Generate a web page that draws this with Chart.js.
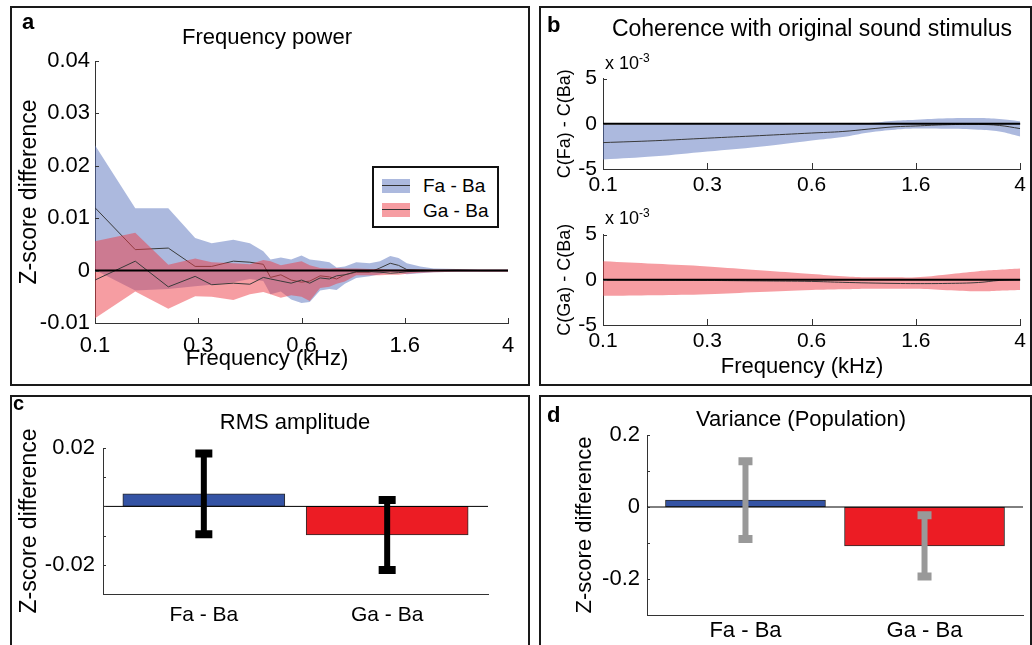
<!DOCTYPE html>
<html>
<head>
<meta charset="utf-8">
<script src="https://cdn.jsdelivr.net/npm/chart.js@4.4.1/dist/chart.umd.min.js"></script>
<style>
  html, body { margin: 0; padding: 0; background: #fff; }
  body { width: 1032px; height: 645px; position: relative; overflow: hidden; font-family: "Liberation Sans", Arial, sans-serif; color: #000; }
  .panel { position: absolute; border: 2px solid #1a1a1a; box-sizing: border-box; }
  canvas { position: absolute; }
  .t { position: absolute; line-height: 1; white-space: nowrap; }
  .legend { position: absolute; border: 2px solid #111; box-sizing: border-box; background: #fff; }
  .patch { position: absolute; width: 28px; height: 14px; }
  .patch::after { content: ""; position: absolute; left: 0; right: 0; top: 6px; height: 1px; background: #333; }
</style>
</head>
<body>
<div class="panel" style="left:10px;top:6px;width:520px;height:380px"></div>
<div class="panel" style="left:539px;top:6px;width:493px;height:380px"></div>
<div class="panel" style="left:10px;top:395px;width:520px;height:260px"></div>
<div class="panel" style="left:539px;top:395px;width:493px;height:260px"></div>

<canvas id="cA" width="516" height="376" style="left:12px;top:8px"></canvas>
<canvas id="cB1" width="489" height="140" style="left:541px;top:60px"></canvas>
<canvas id="cB2" width="489" height="140" style="left:541px;top:216px"></canvas>
<canvas id="cC" width="516" height="246" style="left:12px;top:397px"></canvas>
<canvas id="cD" width="489" height="248" style="left:541px;top:397px"></canvas>

<div class="legend" style="left:372px;top:166px;width:127px;height:62px">
  <div class="patch" style="left:8px;top:11px;background:rgba(90,115,190,0.5)"></div>
  <div class="t" style="left:49px;top:8px;font-size:19px">Fa - Ba</div>
  <div class="patch" style="left:8px;top:35px;background:rgba(238,60,70,0.5)"></div>
  <div class="t" style="left:49px;top:33px;font-size:19px">Ga - Ba</div>
</div>

<script>
// ---- data ----
// frequency axis: ticks are evenly spaced, x values are positions along it (0 = 0.1 kHz, 4 = 4 kHz)
const freqTickPos = [0, 1, 2, 3, 4];
const freqTickLabels = ["0.1", "0.3", "0.6", "1.6", "4"];

// a: frequency power (z-score difference)
const powerPos = [0, 0.39, 0.71, 0.97, 1.13, 1.34, 1.5, 1.63, 1.7, 1.8, 1.9, 2.0, 2.08, 2.18, 2.27, 2.34, 2.42, 2.53, 2.66, 2.76, 2.86, 2.94, 3.02, 3.15, 3.28, 3.5, 3.75, 4];
const faPowerMean = [0.0120, 0.0040, 0.0043, 0.0008, 0.0008, 0.0018, 0.0016, 0.0012, -0.0013, -0.0008, -0.0018, -0.0022, -0.0020, -0.0010, -0.0012, -0.0016, -0.0008, -0.0003, -0.0003, 0.0005, 0.0014, 0.0010, 0.0002, 0.0001, 0.0000, 0.0001, 0.0000, 0.0000];
const faPowerUpper = [0.0239, 0.0119, 0.0119, 0.0062, 0.0052, 0.0059, 0.0052, 0.0037, 0.0021, 0.0025, 0.0021, 0.0029, 0.0021, 0.0019, 0.0016, 0.0006, 0.0008, 0.0016, 0.0014, 0.0018, 0.0028, 0.0024, 0.0014, 0.0008, 0.0004, 0.0003, 0.0002, 0.0002];
const faPowerLower = [0.0001, -0.0038, -0.0035, -0.0030, -0.0027, -0.0022, -0.0016, -0.0020, -0.0045, -0.0040, -0.0055, -0.0062, -0.0060, -0.0038, -0.0035, -0.0037, -0.0025, -0.0014, -0.0011, -0.0007, -0.0002, -0.0004, -0.0007, -0.0005, -0.0003, -0.0002, -0.0002, -0.0002];
const gaPowerMean = [-0.0018, 0.0018, -0.0031, -0.0011, -0.0027, -0.0024, -0.0026, -0.0013, -0.0016, -0.0020, -0.0024, -0.0018, -0.0024, -0.0014, -0.0016, -0.0010, -0.0008, -0.0002, -0.0002, -0.0003, -0.0005, -0.0004, -0.0002, -0.0001, 0, 0, 0, 0];
const gaPowerUpper = [0.0056, 0.0072, 0.0011, 0.0023, 0.0016, 0.0014, 0.0012, 0.0020, 0.0018, 0.0010, 0.0014, 0.0018, 0.0010, 0.0005, 0.0004, 0.0005, 0.0004, 0.0004, 0.0003, 0.0003, 0.0002, 0.0002, 0.0002, 0.0002, 0.0002, 0.0002, 0.0002, 0.0002];
const gaPowerLower = [-0.0091, -0.0040, -0.0073, -0.0049, -0.0050, -0.0056, -0.0045, -0.0041, -0.0045, -0.0052, -0.0047, -0.0050, -0.0058, -0.0033, -0.0031, -0.0025, -0.0021, -0.0009, -0.0009, -0.0009, -0.0008, -0.0008, -0.0006, -0.0004, -0.0003, -0.0002, -0.0002, -0.0002];
const powerTicks = [-0.01, 0, 0.01, 0.02, 0.03, 0.04];
const powerTickLabels = ["-0.01", "0", "0.01", "0.02", "0.03", "0.04"];

// b: coherence with original sound stimulus (x 10^-3)
const cohPos = [0, 0.5, 1, 1.5, 2, 2.3, 2.55, 2.8, 3, 3.3, 3.6, 3.8, 4];
const faCohMean = [-2.08, -1.87, -1.59, -1.31, -1.02, -0.85, -0.58, -0.33, -0.24, -0.10, -0.07, -0.18, -0.53];
const faCohUpper = [-0.10, -0.08, -0.06, -0.06, -0.08, -0.05, 0.10, 0.35, 0.46, 0.62, 0.64, 0.53, 0.28];
const faCohLower = [-3.96, -3.60, -3.07, -2.54, -1.84, -1.45, -0.95, -0.65, -0.53, -0.55, -0.65, -0.85, -1.41];
const gaCohMean = [0, -0.03, -0.07, -0.12, -0.18, -0.28, -0.35, -0.40, -0.42, -0.40, -0.30, -0.07, 0];
const gaCohUpper = [2.05, 1.77, 1.48, 1.05, 0.64, 0.40, 0.28, 0.28, 0.28, 0.60, 0.95, 1.10, 1.24];
const gaCohLower = [-1.77, -1.70, -1.59, -1.35, -1.13, -1.05, -0.99, -0.99, -1.00, -1.15, -1.27, -1.20, -1.13];
const cohTicks = [-5, 0, 5];
const cohTickLabels = ["-5", "0", "5"];

// c, d: bar panels
const groups = ["Fa - Ba", "Ga - Ba"];
const rmsValues = [0.0043, -0.0098];
const rmsErrors = [0.0138, 0.0120];
const rmsTicks = [-0.03, -0.02, -0.01, 0, 0.01, 0.02];
const rmsTickLabels = ["", "-0.02", "", "", "", "0.02"];
const varValues = [0.019, -0.108];
const varErrors = [0.108, 0.085];
const varTicks = [-0.3, -0.2, -0.1, 0, 0.1, 0.2];
const varTickLabels = ["", "-0.2", "", "0", "", "0.2"];

// ---- styles ----
const FONT = '"Liberation Sans", Arial, sans-serif';
Chart.defaults.font.family = FONT;
Chart.defaults.color = "#000";
const blueFill = "rgba(90,115,190,0.5)";
const redFill = "rgba(238,60,70,0.5)";
const axisColor = "#333";

// ---- plugins ----
const zeroLine = {
  id: "zeroLine",
  afterDatasetsDraw(chart, args, opts) {
    const { ctx, chartArea: a, scales: { y } } = chart;
    const py = y.getPixelForValue(0);
    ctx.save();
    ctx.strokeStyle = opts.color || "#000";
    ctx.lineWidth = opts.width || 1;
    ctx.beginPath();
    ctx.moveTo(a.left, py);
    ctx.lineTo(a.right, py);
    ctx.stroke();
    ctx.restore();
  },
};

const innerTicks = {
  id: "innerTicks",
  afterDraw(chart, args, opts) {
    const { ctx, chartArea: a, scales: { x, y } } = chart;
    ctx.save();
    ctx.strokeStyle = axisColor;
    ctx.lineWidth = 1;
    ctx.beginPath();
    if (opts.x) {
      x.ticks.forEach((t) => {
        const px = Math.round(x.getPixelForValue(t.value)) + 0.5;
        ctx.moveTo(px, a.bottom);
        ctx.lineTo(px, a.bottom - opts.x);
      });
    }
    if (opts.y) {
      y.ticks.forEach((t) => {
        const py = Math.round(y.getPixelForValue(t.value)) + 0.5;
        ctx.moveTo(a.left, py);
        ctx.lineTo(a.left + opts.y, py);
      });
    }
    ctx.stroke();
    ctx.restore();
  },
};

const errorBars = {
  id: "errorBars",
  afterDatasetsDraw(chart, args, opts) {
    const { ctx, scales: { y } } = chart;
    const meta = chart.getDatasetMeta(0);
    const ds = chart.data.datasets[0].data;
    ctx.save();
    ctx.strokeStyle = opts.color;
    meta.data.forEach((bar, i) => {
      const v = ds[i].y;
      const top = y.getPixelForValue(v + opts.errors[i]);
      const bot = y.getPixelForValue(v - opts.errors[i]);
      ctx.lineWidth = opts.stem;
      ctx.beginPath();
      ctx.moveTo(bar.x, top);
      ctx.lineTo(bar.x, bot);
      ctx.stroke();
      ctx.lineWidth = opts.capThick;
      ctx.beginPath();
      ctx.moveTo(bar.x - opts.cap / 2, top);
      ctx.lineTo(bar.x + opts.cap / 2, top);
      ctx.moveTo(bar.x - opts.cap / 2, bot);
      ctx.lineTo(bar.x + opts.cap / 2, bot);
      ctx.stroke();
    });
    ctx.restore();
  },
};

// ---- helpers ----
const pts = (xs, ys) => xs.map((x, i) => ({ x, y: ys[i] }));

function area(xs, ys, color, order, tension) {
  return { data: pts(xs, ys), fill: "+1", backgroundColor: color, borderColor: "transparent", borderWidth: 0, pointRadius: 0, tension: tension || 0, order };
}
function edge(xs, ys, order, tension) {
  return { data: pts(xs, ys), fill: false, borderColor: "transparent", borderWidth: 0, pointRadius: 0, tension: tension || 0, order };
}
function mean(xs, ys, order, tension) {
  return { data: pts(xs, ys), fill: false, borderColor: "#3a3a3a", borderWidth: 1, pointRadius: 0, tension: tension || 0, order };
}

function freqAxis(height, pad, size) {
  return {
    type: "linear", min: 0, max: 4, offset: false,
    afterBuildTicks: (s) => { s.ticks = freqTickPos.map((v) => ({ value: v })); },
    afterFit: (s) => { s.height = height; },
    ticks: { callback: (v, i) => freqTickLabels[i], font: { size }, padding: pad, maxRotation: 0, autoSkip: false },
    grid: { display: false, drawTicks: false },
    border: { display: true, color: axisColor, width: 1 },
  };
}

function groupAxis(height, pad, size) {
  return {
    type: "linear", min: 0.45, max: 2.55, offset: false,
    afterBuildTicks: (s) => { s.ticks = groups.map((g, i) => ({ value: i + 1 })); },
    afterFit: (s) => { s.height = height; },
    ticks: { callback: (v, i) => groups[i], font: { size }, padding: pad, maxRotation: 0, autoSkip: false },
    grid: { display: false, drawTicks: false },
    border: { display: true, color: axisColor, width: 1 },
  };
}

function valueAxis(o) {
  return {
    type: "linear", min: o.min, max: o.max,
    afterBuildTicks: (s) => { s.ticks = o.ticks.map((v) => ({ value: v })); },
    afterFit: (s) => { s.width = o.width; },
    ticks: { callback: (v, i) => o.labels[i], font: { size: o.size }, padding: o.pad, autoSkip: false },
    grid: { display: false, drawTicks: false },
    border: { display: true, color: axisColor, width: 1 },
    title: { display: true, text: o.title, font: { size: o.titleSize }, color: "#000", padding: { top: o.titlePad, bottom: 0 } },
  };
}

const base = { responsive: false, animation: false, devicePixelRatio: 1 };

// ---- a: frequency power ----
new Chart(document.getElementById("cA"), {
  type: "line",
  data: {
    datasets: [
      area(powerPos, faPowerUpper, blueFill, 6), edge(powerPos, faPowerLower, 5), mean(powerPos, faPowerMean, 4),
      area(powerPos, gaPowerUpper, redFill, 3), edge(powerPos, gaPowerLower, 2), mean(powerPos, gaPowerMean, 1),
    ],
  },
  options: {
    ...base,
    layout: { padding: { top: 53, right: 20, left: 0, bottom: 0 } },
    plugins: { legend: { display: false }, tooltip: { enabled: false }, zeroLine: { width: 2 }, innerTicks: { x: 5, y: 4 } },
    scales: {
      x: freqAxis(61, 10, 22),
      y: valueAxis({ min: -0.01, max: 0.04, ticks: powerTicks, labels: powerTickLabels, width: 83, size: 22, pad: 5, title: "Z-score difference", titleSize: 23, titlePad: 4 }),
    },
  },
  plugins: [zeroLine, innerTicks],
});

// ---- b: coherence ----
function cohChart(id, up, lo, mn, fill, title) {
  new Chart(document.getElementById(id), {
    type: "line",
    data: { datasets: [area(cohPos, up, fill, 3, 0.4), edge(cohPos, lo, 2, 0.4), mean(cohPos, mn, 1, 0.4)] },
    options: {
      ...base,
      layout: { padding: { top: 14, right: 8, left: 0, bottom: 0 } },
      plugins: { legend: { display: false }, tooltip: { enabled: false }, zeroLine: { width: 2 }, innerTicks: { x: 6, y: 4 } },
      scales: {
        x: freqAxis(31, 4, 21),
        y: valueAxis({ min: -5, max: 5, ticks: cohTicks, labels: cohTickLabels, width: 62, size: 21, pad: 6, title, titleSize: 18, titlePad: 13 }),
      },
    },
    plugins: [zeroLine, innerTicks],
  });
}
cohChart("cB1", faCohUpper, faCohLower, faCohMean, blueFill, "C(Fa) - C(Ba)");
cohChart("cB2", gaCohUpper, gaCohLower, gaCohMean, redFill, "C(Ga) - C(Ba)");

// ---- c, d: bar panels ----
function barChart(id, values, errors, o) {
  new Chart(document.getElementById(id), {
    type: "bar",
    data: {
      datasets: [{
        data: values.map((v, i) => ({ x: i + 1, y: v })),
        backgroundColor: ["#3453a4", "#ec1c24"],
        borderColor: "#2a2a2a", borderWidth: 1, borderSkipped: false,
        barThickness: o.barWidth,
      }],
    },
    options: {
      ...base,
      layout: { padding: o.padding },
      plugins: {
        legend: { display: false }, tooltip: { enabled: false },
        zeroLine: { width: 1 }, innerTicks: { y: 3 },
        errorBars: { errors, color: o.errColor, stem: 6, capThick: 8, cap: o.cap },
      },
      scales: { x: groupAxis(o.xHeight, o.xPad, o.xSize), y: valueAxis(o.y) },
    },
    plugins: [zeroLine, innerTicks, errorBars],
  });
}

barChart("cC", rmsValues, rmsErrors, {
  padding: { top: 51, right: 40, left: 0, bottom: 0 },
  barWidth: 162, errColor: "#000", cap: 17, xHeight: 49, xPad: 9, xSize: 21,
  y: { min: -0.03, max: 0.02, ticks: rmsTicks, labels: rmsTickLabels, width: 91, size: 22, pad: 8, title: "Z-score difference", titleSize: 23, titlePad: 4 },
});

barChart("cD", varValues, varErrors, {
  padding: { top: 38, right: 7, left: 0, bottom: 0 },
  barWidth: 160, errColor: "#999", cap: 14, xHeight: 30, xPad: 3, xSize: 22,
  y: { min: -0.3, max: 0.2, ticks: varTicks, labels: varTickLabels, width: 106, size: 22, pad: 7, title: "Z-score difference", titleSize: 22, titlePad: 31 },
});

// ---- panel letters, titles, axis titles ----
function text(str, x, baseline, size, opts = {}) {
  const d = document.createElement("div");
  d.className = "t";
  d.innerHTML = str;
  d.style.fontSize = size + "px";
  d.style.top = baseline - 0.85 * size + "px";
  d.style.left = x + "px";
  if (opts.center) d.style.transform = "translateX(-50%)";
  if (opts.bold) d.style.fontWeight = "bold";
  document.body.append(d);
}
text("a", 22, 30, 22, { bold: true });
text("Frequency power", 267, 45, 22, { center: true });
text("Frequency (kHz)", 267, 366, 22, { center: true });

text("b", 547, 33, 22, { bold: true });
text("Coherence with original sound stimulus", 812, 37, 23, { center: true });
text('x 10<sup style="font-size:12px;vertical-align:7px">-3</sup>', 605, 67, 18);
text('x 10<sup style="font-size:12px;vertical-align:7px">-3</sup>', 605, 222, 18);
text("Frequency (kHz)", 802, 374, 22, { center: true });

text("c", 13, 410, 20, { bold: true });
text("RMS amplitude", 295, 430, 22, { center: true });

text("d", 547, 423, 22, { bold: true });
text("Variance (Population)", 801, 427, 22, { center: true });
</script>
</body>
</html>
